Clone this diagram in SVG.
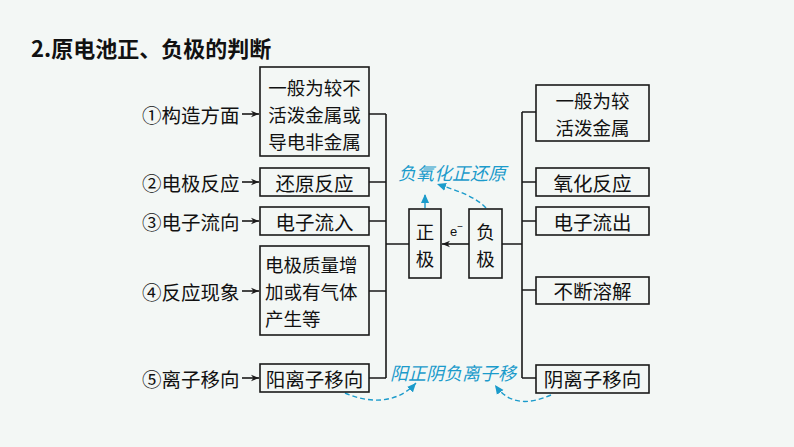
<svg xmlns="http://www.w3.org/2000/svg" width="794" height="447" viewBox="0 0 794 447">
<defs>
<style>
.bg{fill:#f3f7f5}
.box{fill:none;stroke:#1a1a1a;stroke-width:1.6}
.ln{fill:none;stroke:#1a1a1a;stroke-width:1.6}
.t{font-family:"Noto Sans CJK SC","Noto Sans",sans-serif;font-size:19.5px;fill:#111;dominant-baseline:central}
.m{font-size:18.5px}
.c{text-anchor:middle}
.b{font-family:"Noto Sans CJK SC","Noto Sans",sans-serif;font-size:18px;fill:#1b9bcb;font-style:italic;dominant-baseline:central}
.d{fill:none;stroke:#1b9bcb;stroke-width:1.4;stroke-dasharray:5 3}
</style>
<marker id="ah" viewBox="0 0 10 10" refX="10" refY="5" markerWidth="8" markerHeight="8" markerUnits="userSpaceOnUse" orient="auto">
<path d="M0,1 L10,5 L0,9 L3,5 Z" fill="#1a1a1a"/>
</marker>
<marker id="bh" viewBox="0 0 10 10" refX="10" refY="5" markerWidth="9" markerHeight="9" markerUnits="userSpaceOnUse" orient="auto">
<path d="M0,0.5 L10,5 L0,9.5 Z" fill="#1b9bcb"/>
</marker>
</defs>
<rect class="bg" x="0" y="0" width="794" height="447"/>
<g id="title">
<text x="31" y="47" font-family="'Noto Sans CJK SC','Noto Sans',sans-serif" font-size="22" font-weight="bold" fill="#111" dominant-baseline="central">2.原电池正、负极的判断</text>
</g>
<g id="connectors">
<line class="ln" x1="242" y1="114" x2="259" y2="114" marker-end="url(#ah)"/>
<line class="ln" x1="242" y1="182" x2="259" y2="182" marker-end="url(#ah)"/>
<line class="ln" x1="242" y1="221" x2="259" y2="221" marker-end="url(#ah)"/>
<line class="ln" x1="242" y1="291" x2="259" y2="291" marker-end="url(#ah)"/>
<line class="ln" x1="242" y1="378" x2="259" y2="378" marker-end="url(#ah)"/>
<path class="ln" d="M369,114 H386 M369,182 H386 M369,221 H386 M369,291 H386 M369,378 H386 M386,114 V378 M386,244 H409"/>
<path class="ln" d="M536,112 H522 M536,182 H522 M536,221 H522 M536,290 H522 M536,378 H522 M522,112 V378 M502,244 H522"/>
<line class="ln" x1="469" y1="244" x2="442" y2="244" marker-end="url(#ah)"/>
<line class="d" x1="425" y1="208" x2="425" y2="194" marker-end="url(#bh)"/>
<path class="d" d="M486,208 C475,196 455,190 437,184" marker-end="url(#bh)"/>
<path class="d" d="M345,393 C365,402 395,406 416,383" marker-end="url(#bh)"/>
<path class="d" d="M551,395 C530,404 510,406 495,385" marker-end="url(#bh)"/>
</g>
<g id="labels">
<text class="t" x="142" y="114">①构造方面</text>
<text class="t" x="142" y="182">②电极反应</text>
<text class="t" x="142" y="221">③电子流向</text>
<text class="t" x="142" y="291">④反应现象</text>
<text class="t" x="142" y="378">⑤离子移向</text>
</g>
<g id="L1"><rect class="box" x="260" y="67" width="109" height="89"/>
<text class="t m c" x="314.5" y="87">一般为较不</text><text class="t m c" x="314.5" y="114">活泼金属或</text><text class="t m c" x="314.5" y="141">导电非金属</text></g>
<g id="L2"><rect class="box" x="260" y="168" width="109" height="28"/><text class="t c" x="314.5" y="182">还原反应</text></g>
<g id="L3"><rect class="box" x="260" y="207" width="109" height="28"/><text class="t c" x="314.5" y="221">电子流入</text></g>
<g id="L4"><rect class="box" x="260" y="246" width="109" height="89"/>
<text class="t m" x="265" y="264">电极质量增</text><text class="t m" x="265" y="291">加或有气体</text><text class="t m" x="265" y="318">产生等</text></g>
<g id="L5"><rect class="box" x="260" y="364" width="109" height="28"/><text class="t c" x="314.5" y="378">阳离子移向</text></g>
<g id="pos"><rect class="box" x="409" y="209" width="32" height="69"/><text class="t m c" x="425" y="231">正</text><text class="t m c" x="425" y="258">极</text></g>
<g id="neg"><rect class="box" x="469" y="209" width="33" height="69"/><text class="t m c" x="485.5" y="231">负</text><text class="t m c" x="485.5" y="258">极</text></g>
<g id="e"><text x="450" y="236" font-family="'Liberation Sans',sans-serif" font-size="13" fill="#111">e<tspan dy="-6" font-size="10">−</tspan></text></g>
<g id="R1"><rect class="box" x="536" y="85" width="113" height="56"/><text class="t m c" x="592.5" y="100">一般为较</text><text class="t m c" x="592.5" y="127">活泼金属</text></g>
<g id="R2"><rect class="box" x="536" y="168" width="113" height="28"/><text class="t c" x="592.5" y="182">氧化反应</text></g>
<g id="R3"><rect class="box" x="536" y="207" width="113" height="28"/><text class="t c" x="592.5" y="221">电子流出</text></g>
<g id="R4"><rect class="box" x="536" y="277" width="113" height="27"/><text class="t c" x="592.5" y="290">不断溶解</text></g>
<g id="R5"><rect class="box" x="536" y="365" width="113" height="28"/><text class="t c" x="592.5" y="378">阴离子移向</text></g>
<g id="blue">
<text class="b" x="398" y="172">负氧化正还原</text>
<text class="b" x="390" y="372">阳正阴负离子移</text>
</g>
</svg>
